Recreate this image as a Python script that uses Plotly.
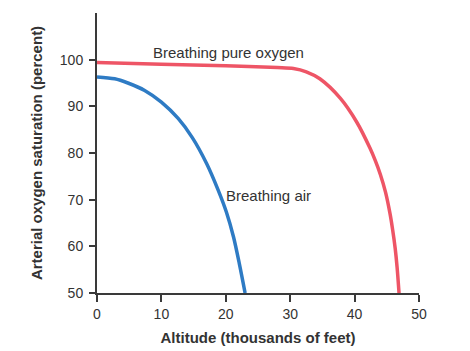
import plotly.graph_objects as go

oxygen_x = [0, 10, 20, 28, 30.5, 32.5, 34.6, 37.8, 40.3, 42.4, 43.2, 44.0, 44.8, 45.5, 45.9, 46.3, 46.6, 46.9]
oxygen_y = [99.4, 99.0, 98.7, 98.3, 98.1, 97.4, 95.9, 91.7, 86.7, 81.0, 78.4, 75.4, 71.6, 67.0, 63.6, 59.6, 55.5, 50]

air_x = [0, 2.75, 4.8, 7.4, 10.0, 12.6, 14.8, 17.0, 18.8, 20.1, 21.2, 22.1, 23.0]
air_y = [96.3, 95.9, 95.0, 93.4, 90.9, 87.4, 83.3, 77.8, 72.1, 67.3, 62.0, 56.3, 50]

x_ticks = [0, 10, 20, 30, 40, 50]
y_ticks = [50, 60, 70, 80, 90, 100]

FONT = "Liberation Sans, Arial, sans-serif"
AXIS = "#3a3a3a"
TEXT = "#333333"

fig = go.Figure()
fig.add_trace(go.Scatter(x=oxygen_x, y=oxygen_y, mode="lines",
                         line=dict(color="#EE5566", width=3.5, shape="spline", smoothing=0.8),
                         showlegend=False, hoverinfo="skip"))
fig.add_trace(go.Scatter(x=air_x, y=air_y, mode="lines",
                         line=dict(color="#2E7BC4", width=3.5, shape="spline", smoothing=0.8),
                         showlegend=False, hoverinfo="skip"))

fig.add_annotation(x=8.4, y=101.5, xanchor="left", text="Breathing pure oxygen", showarrow=False,
                   font=dict(family=FONT, size=15, color=TEXT))
fig.add_annotation(x=19.7, y=70.9, xanchor="left", text="Breathing air", showarrow=False,
                   font=dict(family=FONT, size=15, color=TEXT))

fig.update_layout(
    width=470, height=351,
    margin=dict(l=97, r=51, t=13, b=58),
    paper_bgcolor="white", plot_bgcolor="white",
    font=dict(family=FONT, size=14, color=TEXT),
    xaxis=dict(range=[0, 50], tickvals=x_ticks, ticks="outside", ticklen=7, tickwidth=1.5,
               tickcolor=AXIS, showline=True, linecolor=AXIS, linewidth=2,
               tickfont=dict(size=14, color=TEXT), ticklabelstandoff=0, automargin=False,
               showgrid=False, zeroline=False, fixedrange=True,
               title=dict(text="<b>Altitude (thousands of feet)</b>", font=dict(size=15, color=TEXT), standoff=12)),
    yaxis=dict(range=[50, 110], tickvals=y_ticks, ticks="outside", ticklen=6, tickwidth=1.5,
               tickcolor=AXIS, showline=True, linecolor=AXIS, linewidth=2,
               tickfont=dict(size=14, color=TEXT), ticklabelstandoff=3, automargin=False,
               showgrid=False, zeroline=False, fixedrange=True,
               title=dict(text="<b>Arterial oxygen saturation (percent)</b>", font=dict(size=15, color=TEXT), standoff=14)),
)

fig.write_html("out.html")
